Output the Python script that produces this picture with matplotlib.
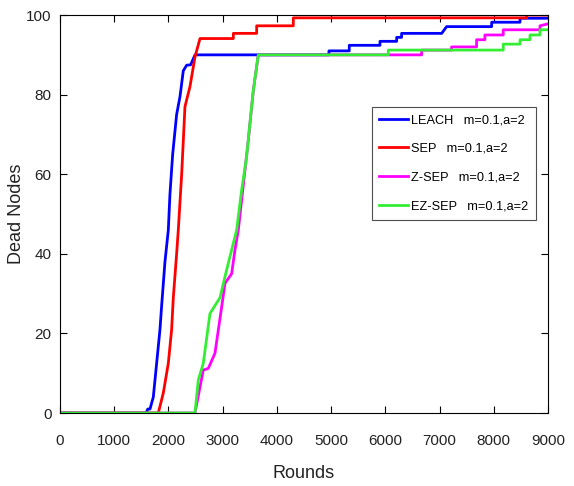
import matplotlib
matplotlib.use('Agg')
import matplotlib.pyplot as plt

# Data (rounds vs. dead nodes)
leach_x = [0, 1586, 1620, 1660, 1721, 1844, 1875, 1936, 1998, 2028, 2078, 2151, 2213, 2274, 2336, 2410, 2490,
           4960, 4960, 5335, 5335, 5901, 5901, 6209, 6209, 6300, 6300, 7040, 7130, 7961, 7961, 8484, 8484, 9000]
leach_y = [0, 0, 1, 1, 4, 21, 27, 38, 46, 55, 65, 75, 79.5, 86, 87.4, 87.5, 90,
           90, 91, 91, 92.4, 92.4, 93.4, 93.4, 94.4, 94.4, 95.4, 95.4, 97.1, 97.1, 98.2, 98.2, 99.2, 99.2]

sep_x = [0, 1813, 1905, 1998, 2059, 2090, 2151, 2182, 2244, 2305, 2397, 2490, 2582,
         3197, 3197, 3627, 3627, 4303, 4303, 8607, 8607, 9000]
sep_y = [0, 0, 5, 12.5, 21, 29, 40, 46, 60, 77, 82, 89.5, 94.1,
         94.1, 95.4, 95.4, 97.3, 97.3, 99.3, 99.3, 100, 100]

zsep_x = [0, 2490, 2643, 2735, 2858, 2982, 3043, 3166, 3227, 3289, 3473, 3565, 3657,
          6670, 6670, 7222, 7222, 7683, 7683, 7836, 7836, 8175, 8175, 8852, 8852, 9000]
zsep_y = [0, 0, 10.8, 11.2, 15, 26.7, 32.6, 35, 41, 46, 68.6, 81, 90,
          90, 91.2, 91.2, 92, 92, 93.8, 93.8, 95, 95, 96.3, 96.3, 97.3, 97.8]

ezsep_x = [0, 2490, 2551, 2643, 2766, 2951, 3074, 3166, 3258, 3350, 3442, 3504, 3565, 3657,
           6054, 6054, 8175, 8175, 8484, 8484, 8668, 8668, 8852, 8852, 9000]
ezsep_y = [0, 0, 8.3, 12.5, 25, 29, 36, 41, 46, 56, 64.4, 73, 81, 90,
           90, 91.2, 91.2, 92.7, 92.7, 93.8, 93.8, 95, 95, 96.3, 96.3]

labels = ['LEACH   m=0.1,a=2', 'SEP   m=0.1,a=2', 'Z-SEP   m=0.1,a=2', 'EZ-SEP   m=0.1,a=2']
x_ticks = list(range(0, 9001, 1000))
y_ticks = list(range(0, 101, 20))

plt.rcParams['font.family'] = ['Liberation Sans', 'DejaVu Sans']

fig = plt.figure(figsize=(5.74, 4.86), dpi=100)
ax = fig.add_axes([0.1045, 0.1502, 0.8502, 0.8188])

ax.plot(leach_x, leach_y, color='#0000ff', lw=2, label=labels[0])
ax.plot(sep_x, sep_y, color='#ff0000', lw=2, label=labels[1])
ax.plot(zsep_x, zsep_y, color='#ff00ff', lw=2, label=labels[2])
ax.plot(ezsep_x, ezsep_y, color='#33ee33', lw=2, label=labels[3])

ax.set_xlim(0, 9000)
ax.set_ylim(0, 100)
ax.set_xticks(x_ticks)
ax.set_yticks(y_ticks)
ax.tick_params(direction='in', top=True, right=True, length=5, width=0.8,
               labelsize=11, labelcolor='#222222')
ax.tick_params(axis='x', pad=15)
ax.tick_params(axis='y', pad=6)

ax.set_xlabel('Rounds', fontsize=13, color='#222222', labelpad=12)
ax.set_ylabel('Dead Nodes', fontsize=13, color='#222222', labelpad=1)

leg = ax.legend(loc='upper left', bbox_to_anchor=(0.639, 0.770), frameon=True, fancybox=False,
                edgecolor='#222222', prop={'size': 9.2}, handlelength=2.2,
                labelspacing=1.3, borderpad=0.6, handletextpad=0.3, borderaxespad=0)
leg.get_frame().set_linewidth(0.8)

fig.savefig('out.png', dpi=100)
